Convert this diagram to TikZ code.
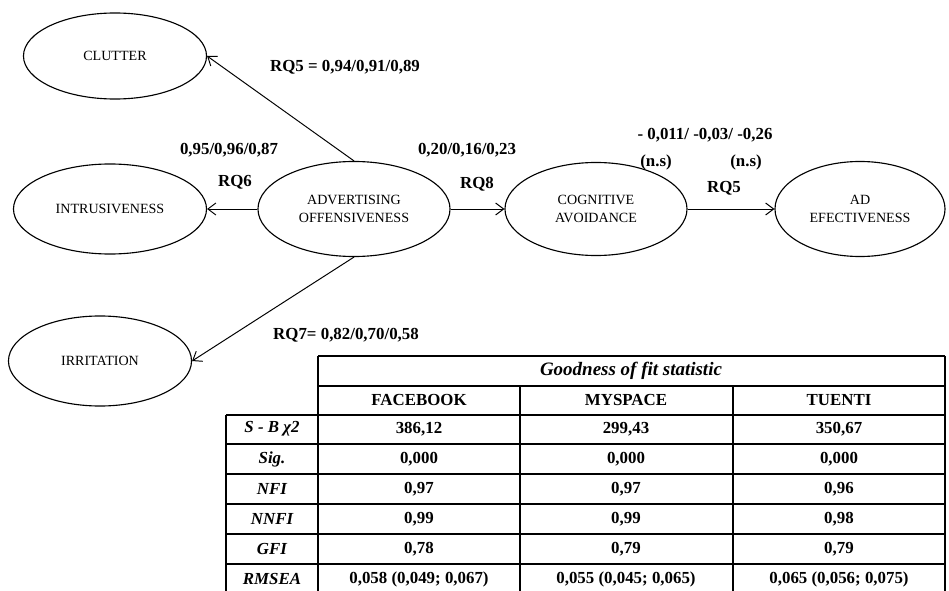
\documentclass[tikz,border=0pt]{standalone}
\usepackage{fontspec}
\setmainfont{Liberation Serif}
\usetikzlibrary{arrows.meta,shapes.geometric}

\begin{document}
\begin{tikzpicture}[
    x=0.025cm, y=-0.025cm,
    construct/.style={draw, ellipse, line width=0.8pt, inner sep=0pt,
                minimum width=4.6cm, minimum height=2.3cm, align=center,
                font=\fontsize{10}{12.5}\selectfont},
    coef/.style={font=\fontsize{12}{14}\selectfont\bfseries},
    cell/.style={font=\fontsize{12}{14}\selectfont\bfseries},
    rowhead/.style={font=\fontsize{12}{14}\selectfont\bfseries\itshape},
    tabline/.style={line width=0.8pt},
    arr/.style={-{Straight Barb[length=2mm,width=3mm]}, line width=0.7pt}
]
\useasboundingbox (0,0) rectangle (949,591);

% constructs
\node[construct, minimum width=4.575cm, minimum height=2.15cm] (clutter) at (115,56) {CLUTTER};
\node[construct, minimum width=4.825cm, minimum height=2.25cm] (intrus) at (110,209) {INTRUSIVENESS};
\node[construct, minimum width=4.575cm, minimum height=2.25cm] (irrit) at (100,361) {IRRITATION};
\node[construct, minimum width=4.8cm, minimum height=2.375cm] (offens) at (354,209) {ADVERTISING\\OFFENSIVENESS};
\node[construct, minimum width=4.55cm, minimum height=2.325cm] (avoid) at (596,209) {COGNITIVE\\AVOIDANCE};
\node[construct, minimum width=4.25cm, minimum height=2.375cm] (effect) at (860,209) {AD\\EFECTIVENESS};

% paths
\draw[arr] (offens.north) -- (clutter.east);
\draw[arr] (offens.west) -- (intrus.east);
\draw[arr] (offens.south) -- (irrit.east);
\draw[arr] (offens.east) -- (avoid.west);
\draw[arr] (avoid.east) -- (effect.west);

% coefficients
\node[coef] (c-clutter) at (345,67) {RQ5 = 0,94/0,91/0,89};
\node[coef] (c-intrus) at (229,150) {0,95/0,96/0,87};
\node[coef] (rq6) at (235,182) {RQ6};
\node[coef] (c-avoid) at (467,150) {0,20/0,16/0,23};
\node[coef] (rq8) at (477,184) {RQ8};
\node[coef] (c-effect) at (705,135) {- 0,011/ -0,03/ -0,26};
\node[coef] (ns1) at (656,162) {(n.s)};
\node[coef] (ns2) at (746,162) {(n.s)};
\node[coef] (rq5) at (724,188) {RQ5};
\node[coef] (c-irrit) at (346,335) {RQ7= 0,82/0,70/0,58};

% fit table
\draw[tabline] (318,356) -- (945,356);
\draw[tabline] (318,386) -- (945,386);
\draw[tabline] (226,415) -- (945,415);
\draw[tabline] (226,444) -- (945,444);
\draw[tabline] (226,474) -- (945,474);
\draw[tabline] (226,504) -- (945,504);
\draw[tabline] (226,534) -- (945,534);
\draw[tabline] (226,564) -- (945,564);
\draw[tabline] (226,415) -- (226,591);
\draw[tabline] (318,356) -- (318,591);
\draw[tabline] (520,386) -- (520,591);
\draw[tabline] (733,386) -- (733,591);
\draw[tabline] (945,356) -- (945,591);

\node[cell, font=\fontsize{13.5}{15}\selectfont\bfseries\itshape] (title) at (631,371) {Goodness of fit statistic};
\node[cell] (fb) at (419,400) {FACEBOOK};
\node[cell] (ms) at (626,400) {MYSPACE};
\node[cell] (tu) at (839,400) {TUENTI};

\node[rowhead] (h-chi) at (272,429) {S - B χ2};
\node[cell] (fb-chi) at (419,429) {386,12};
\node[cell] (ms-chi) at (626,429) {299,43};
\node[cell] (tu-chi) at (839,429) {350,67};

\node[rowhead] (h-sig) at (272,459) {Sig.};
\node[cell] (fb-sig) at (419,459) {0,000};
\node[cell] (ms-sig) at (626,459) {0,000};
\node[cell] (tu-sig) at (839,459) {0,000};

\node[rowhead] (h-nfi) at (272,489) {NFI};
\node[cell] (fb-nfi) at (419,489) {0,97};
\node[cell] (ms-nfi) at (626,489) {0,97};
\node[cell] (tu-nfi) at (839,489) {0,96};

\node[rowhead] (h-nnfi) at (272,519) {NNFI};
\node[cell] (fb-nnfi) at (419,519) {0,99};
\node[cell] (ms-nnfi) at (626,519) {0,99};
\node[cell] (tu-nnfi) at (839,519) {0,98};

\node[rowhead] (h-gfi) at (272,549) {GFI};
\node[cell] (fb-gfi) at (419,549) {0,78};
\node[cell] (ms-gfi) at (626,549) {0,79};
\node[cell] (tu-gfi) at (839,549) {0,79};

\node[rowhead] (h-rmsea) at (272,579) {RMSEA};
\node[cell] (fb-rmsea) at (419,579) {0,058 (0,049; 0,067)};
\node[cell] (ms-rmsea) at (626,579) {0,055 (0,045; 0,065)};
\node[cell] (tu-rmsea) at (839,579) {0,065 (0,056; 0,075)};
\end{tikzpicture}
\end{document}
